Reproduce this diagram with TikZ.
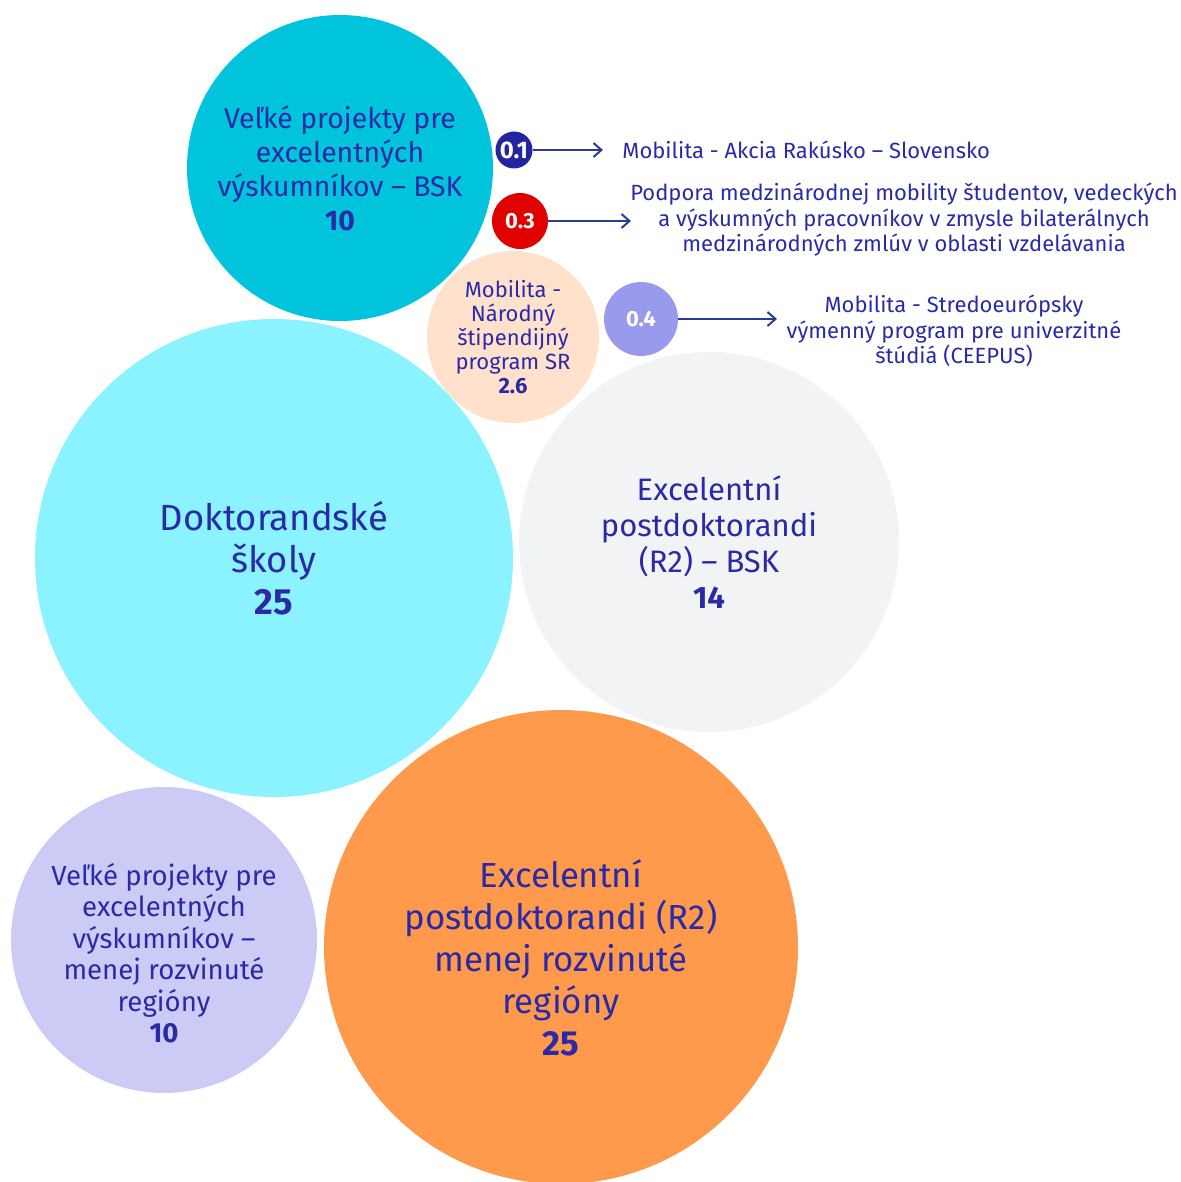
\documentclass[tikz,border=0pt]{standalone}
\usepackage{fontspec}
\setmainfont{Fira Sans}
\usetikzlibrary{arrows.meta}
\definecolor{txt}{HTML}{2A2AA6}
\definecolor{cA}{HTML}{00C4DC}
\definecolor{cNavy}{HTML}{2424A0}
\definecolor{cRed}{HTML}{E00000}
\definecolor{cPeach}{HTML}{FFE1CC}
\definecolor{cLav}{HTML}{9A9AEC}
\definecolor{cLight}{HTML}{8AF3FF}
\definecolor{cGrey}{HTML}{F2F3F5}
\definecolor{cLav2}{HTML}{CBCBF5}
\definecolor{cOrange}{HTML}{FF9A4D}
\definecolor{arrc}{HTML}{2B3A94}
\tikzset{
  bub/.style={circle,inner sep=0pt,text=txt,align=center},
  small/.style={circle,inner sep=0pt,text=white,font=\fontsize{11}{12}\selectfont\bfseries},
  lab/.style={text=txt,align=center,inner sep=0pt,font=\fontsize{11}{12.75}\selectfont},
  arr/.style={-{Straight Barb[length=4pt,width=7pt]},draw=arrc,line width=1pt}
}
\begin{document}
\begin{tikzpicture}[x=0.5pt,y=-0.5pt]
\useasboundingbox (0,0) rectangle (1180,1182);
\node[bub,fill=cA,minimum size=153pt] (a) at (340,168) {};
\node[bub,fill=cLight,minimum size=239pt] (d) at (274,558) {};
\node[bub,fill=cGrey,minimum size=190pt] (e) at (709,542) {};
\node[bub,fill=cLav2,minimum size=153pt] (v) at (164,940) {};
\node[bub,fill=cOrange,minimum size=237pt] (o) at (561,947) {};
\node[bub,fill=cPeach,minimum size=86pt] (p) at (513,337) {};
\node[small,fill=cNavy,minimum size=18.5pt,font=\fontsize{12}{13}\selectfont\bfseries] (s1) at (514,150) {0.1};
\node[small,fill=cRed,minimum size=28pt] (s3) at (520,221) {0.3};
\node[small,fill=cLav,minimum size=37pt] (s4) at (641,319) {0.4};

\node[text=txt,align=center,font=\fontsize{14.2}{17}\selectfont] (at) at (340,168)
  {Veľké projekty pre\\excelentných\\výskumníkov – BSK\\\textbf{10}};
\node[text=txt,align=center,font=\fontsize{18.2}{21}\selectfont] (dt) at (274,558)
  {Doktorandské\\školy\\\textbf{25}};
\node[text=txt,align=center,font=\fontsize{15.5}{18}\selectfont] (et) at (709,542)
  {Excelentní\\postdoktorandi\\(R2) – BSK\\\textbf{14}};
\node[text=txt,align=center,font=\fontsize{13.8}{15.75}\selectfont] (vt) at (164,953)
  {Veľké projekty pre\\excelentných\\výskumníkov –\\menej rozvinuté\\regióny\\\textbf{10}};
\node[text=txt,align=center,font=\fontsize{17.4}{21}\selectfont] (ot) at (561,958)
  {Excelentní\\postdoktorandi (R2)\\menej rozvinuté\\regióny\\\textbf{25}};
\node[text=txt,align=center,font=\fontsize{11}{12}\selectfont] (pt) at (513,337)
  {Mobilita -\\Národný\\štipendijný\\program SR\\\textbf{2.6}};

\node[lab,anchor=west] (l1) at (622,150) {Mobilita - Akcia Rakúsko – Slovensko};
\node[lab] (l3) at (904,220) {Podpora medzinárodnej mobility študentov, vedeckých\\a výskumných pracovníkov v zmysle bilaterálnych\\medzinárodných zmlúv v oblasti vzdelávania};
\node[lab] (l4) at (954,331) {Mobilita - Stredoeurópsky\\výmenný program pre univerzitné\\štúdiá (CEEPUS)};

\coordinate (e1) at (603,150);
\coordinate (e3) at (631,221);
\coordinate (e4) at (777,319);
\draw[arr] (s1.east) -- (e1);
\draw[arr] (s3.east) -- (e3);
\draw[arr] (s4.east) -- (e4);
\end{tikzpicture}
\end{document}
